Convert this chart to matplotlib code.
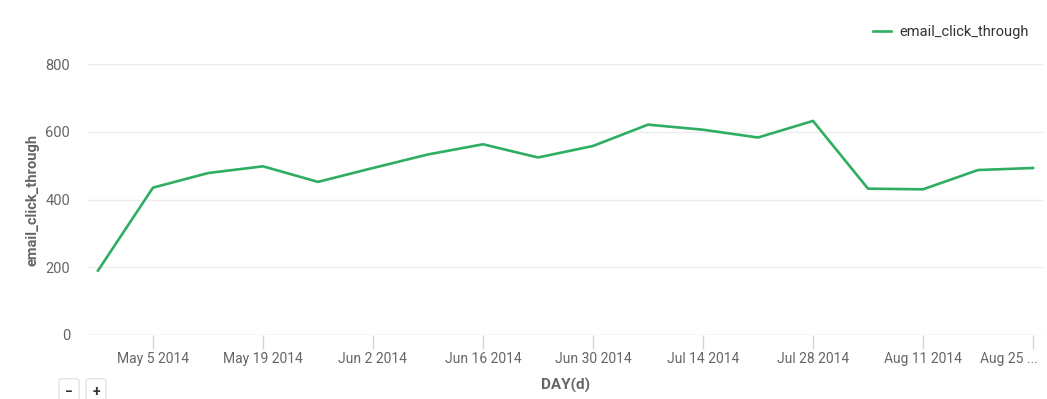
import datetime as dt
import matplotlib
matplotlib.use("Agg")
import matplotlib.pyplot as plt
import matplotlib.dates as mdates
from matplotlib.transforms import ScaledTranslation

# weekly email click-through
week_start = dt.date(2014, 4, 28)
n_weeks = 18
clicks = [190, 435, 478, 498, 452, 493, 533, 563, 524, 558,
          621, 606, 583, 632, 432, 430, 487, 493]
tick_dates = [dt.date(2014, 5, 5), dt.date(2014, 5, 19), dt.date(2014, 6, 2),
              dt.date(2014, 6, 16), dt.date(2014, 6, 30), dt.date(2014, 7, 14),
              dt.date(2014, 7, 28), dt.date(2014, 8, 11), dt.date(2014, 8, 25)]
tick_labels = ["May 5 2014", "May 19 2014", "Jun 2 2014", "Jun 16 2014",
               "Jun 30 2014", "Jul 14 2014", "Jul 28 2014", "Aug 11 2014",
               "Aug 25 ..."]
y_ticks = [0, 200, 400, 600, 800]

days = [week_start + dt.timedelta(weeks=i) for i in range(n_weeks)]

plt.rcParams["font.family"] = ["Roboto", "DejaVu Sans"]
GREEN = "#2fae63"
TXT = "#666666"

W, H = 1047, 399
fig = plt.figure(figsize=(W / 100, H / 100), dpi=100)
ax = fig.add_axes([88 / W, (H - 335) / H, (1044 - 88) / W, (335 - 64) / H])

ax.plot(days, clicks, color=GREEN, lw=1.9, label="email_click_through",
        solid_joinstyle="round", clip_on=False, zorder=3)

ax.set_xlim(mdates.date2num(days[0]) - 1.27, mdates.date2num(days[-1]) + 1.4)
ax.set_ylim(0, 800)
ax.set_yticks(y_ticks)
ax.set_xticks(tick_dates)
ax.set_xticklabels(tick_labels)

ax.grid(axis="y", color="#ededed", lw=1)
ax.set_axisbelow(True)
for s in ax.spines.values():
    s.set_visible(False)
ax.tick_params(axis="y", length=0, pad=13, labelsize=10.5, labelcolor=TXT)
ax.tick_params(axis="x", length=10, width=1, color="#ccd6eb", pad=2,
               labelsize=10, labelcolor=TXT)
ax.axhline(0, color="#e6e6e6", lw=1, zorder=1)

# last label is squeezed against the right edge
last = ax.get_xticklabels()[-1]
last.set_horizontalalignment("right")
last.set_transform(last.get_transform()
                   + ScaledTranslation(5 / 100, 0, fig.dpi_scale_trans))

ax.set_ylabel("email_click_through", color=TXT, fontsize=10.5,
              fontweight="bold", labelpad=4)
ax.set_xlabel("DAY(d)", color=TXT, fontsize=11, fontweight="bold",
              labelpad=9)

leg = fig.legend(loc="upper right", bbox_to_anchor=(1042 / W, 1 - 12 / H),
                 frameon=False, fontsize=10.5, handlelength=1.3,
                 handletextpad=0.55, labelcolor="#333333")

# zoom buttons under the chart
for xb, sym in [(69, "\u2212"), (96, "+")]:
    fig.text(xb / W, 1 - 392 / H, sym, ha="center", va="center",
             fontsize=10, fontweight="bold", color="#333333",
             bbox=dict(boxstyle="round,pad=0.45,rounding_size=0.25",
                       fc="white", ec="#dddddd", lw=0.8))

fig.savefig("out.png", dpi=100)
